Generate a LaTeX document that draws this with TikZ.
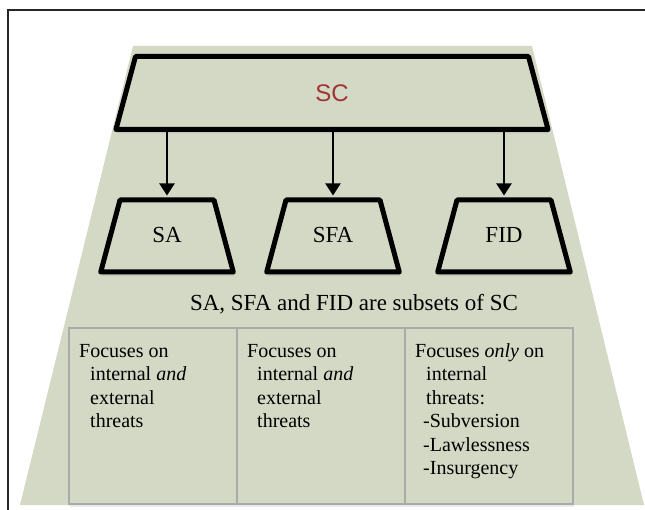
\documentclass[tikz,border=0pt]{standalone}
\usepackage{fontspec}
\setmainfont{Liberation Serif}
\newfontfamily\scfont{Liberation Sans}
\usetikzlibrary{shapes.geometric,arrows.meta,shadows}
\definecolor{sage}{RGB}{212,217,197}
\definecolor{scred}{RGB}{160,52,52}
\definecolor{boxgray}{RGB}{170,170,170}

\begin{document}
\begin{tikzpicture}[x=1pt,y=-1pt]
\tikzstyle{tier}=[trapezium,trapezium left angle=75,trapezium right angle=75,draw=black,line width=5pt,line join=round,fill=sage,inner sep=0pt,align=center,drop shadow={shadow xshift=1pt,shadow yshift=-4pt,opacity=0.2}]
\tikzstyle{focus}=[draw=boxgray,line width=2.5pt,fill=sage,minimum width=168pt,minimum height=176pt,inner sep=0pt,drop shadow={shadow xshift=1pt,shadow yshift=-3pt,opacity=0.15}]
\tikzstyle{note}=[anchor=north west,inner sep=0pt,align=left,font=\fontsize{20}{23.5}\selectfont]
\tikzstyle{down}=[-{Triangle[width=15pt,length=12pt]},line width=2pt,shorten >=2pt]
\useasboundingbox (0,0) rectangle (645,510);
% frame and backdrop
\draw[line width=1.5pt,black!85] (8,520) |- (660,10);
\fill[sage] (133,46) -- (532,46) -- (644,505) -- (20,505) -- cycle;
% tiers
\node[tier,text width=393pt,text height=45pt,text depth=28pt,text=scred,font=\scfont\fontsize{24}{28}\selectfont] (SC) at (332,93) {SC};
\foreach \name/\xpos in {SA/167,SFA/333,FID/504}
  \node[tier,text width=94pt,text height=43pt,text depth=29pt,font=\fontsize{23}{27}\selectfont] (\name) at (\xpos,236) {\name};
\foreach \name in {SA,SFA,FID}
  \draw[down] (SC.south -| \name.north) -- (\name.north);
\node[anchor=base,font=\fontsize{23}{27}\selectfont] (subsets) at (354,311) {SA, SFA and FID are subsets of SC};
% focus boxes
\foreach \name/\xpos in {saBox/153,sfaBox/321,fidBox/489}
  \node[focus] (\name) at (\xpos,416) {};
\node[note] (saText) at (79,344) {Focuses on\\\hspace*{11pt}internal \textit{and}\\\hspace*{11pt}external\\\hspace*{11pt}threats};
\node[note] (sfaText) at (247,344) {Focuses on\\\hspace*{10pt}internal \textit{and}\\\hspace*{10pt}external\\\hspace*{10pt}threats};
\node[note] (fidText) at (415,343) {Focuses \textit{only} on\\\hspace*{11pt}internal\\\hspace*{11pt}threats:\\\hspace*{8pt}-Subversion\\\hspace*{8pt}-Lawlessness\\\hspace*{8pt}-Insurgency};
\end{tikzpicture}
\end{document}
